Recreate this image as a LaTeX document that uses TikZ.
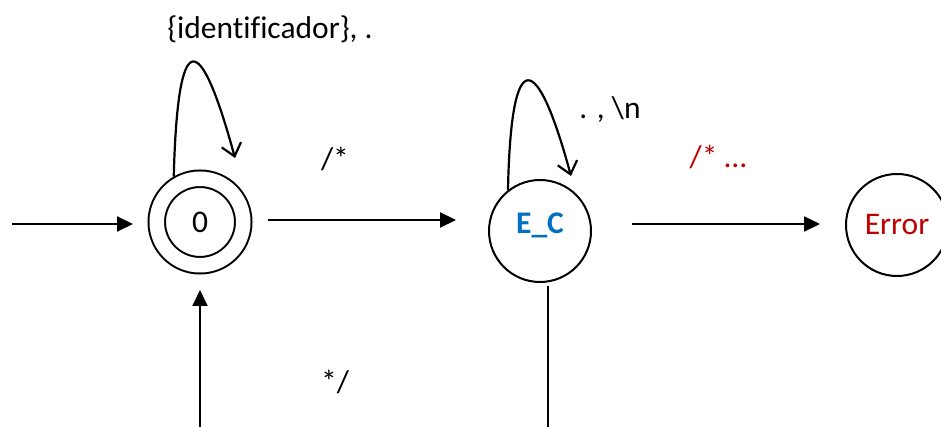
\documentclass[tikz,border=0pt]{standalone}
\usepackage{fontspec}
\setmainfont[Ligatures=NoCommon]{Carlito}
\usetikzlibrary{arrows.meta}
\definecolor{ecblue}{RGB}{0,112,192}
\definecolor{errred}{RGB}{192,0,0}

\begin{document}
\begin{tikzpicture}[x=1pt,y=1pt,>={Triangle[length=16pt,width=15pt]},
  every node/.style={font=\fontsize{31.5}{38}\selectfont},
  state/.style={circle,draw,line width=2pt,minimum size=102pt,inner sep=0pt,outer sep=1pt},
  accept/.style={state,double,double distance=14.5pt,minimum size=86.5pt,outer sep=9.25pt},
  trans/.style={line width=2.2pt},
  selfloop/.style={line width=2.2pt,-{Straight Barb[length=12pt,width=20pt]}}]
  \useasboundingbox (0,0) rectangle (941,427);
  % states
  \node[accept] (s0) at (200,205) {0};
  \node[state,text depth=15pt] (ec) at (540,196) {\textcolor{ecblue}{\textbf{E\_C}}};
  \node[state] (err) at (897,202) {\textcolor{errred}{Error}};
  % free ends
  \coordinate (init) at (12,203);
  \coordinate (back) at (200,0);
  \coordinate (ecdown) at (548,0);
  \coordinate (l0end) at (235,269);
  \coordinate (lecend) at (571,251);
  % transitions
  \draw[trans,->,shorten >=14.5pt] (init) -- (init -| s0.west);
  \draw[trans,->,shorten <=15.5pt,shorten >=32pt] ([yshift=2pt]s0.east) -- ([yshift=2pt]s0.east -| ec.west);
  \draw[trans,->,shorten <=40pt,shorten >=25pt] ([yshift=7pt]ec.east) -- ([yshift=7pt]ec.east -| err.west);
  \draw[line width=2pt,shorten <=3pt] (ecdown |- ec.south) -- (ecdown);
  \draw[trans,->,shorten >=15.5pt] (back) -- (s0.south);
  \draw[selfloop] (s0.120) .. controls +(4,153) and +(-35,128) .. (l0end);
  \draw[selfloop] (ec.128) .. controls +(3,148) and +(-34,125) .. (lecend);
  % labels
  \node (lid) at (270,398) {\{identificador\}, .};
  \node (lopen) at (335,268) {/*};
  \node (lnl) at (610,317) {. , \textbackslash n};
  \node[text=errred] (lerr) at (718,270) {/* …};
  \node (lclose) at (335,45) {*/};
\end{tikzpicture}
\end{document}
